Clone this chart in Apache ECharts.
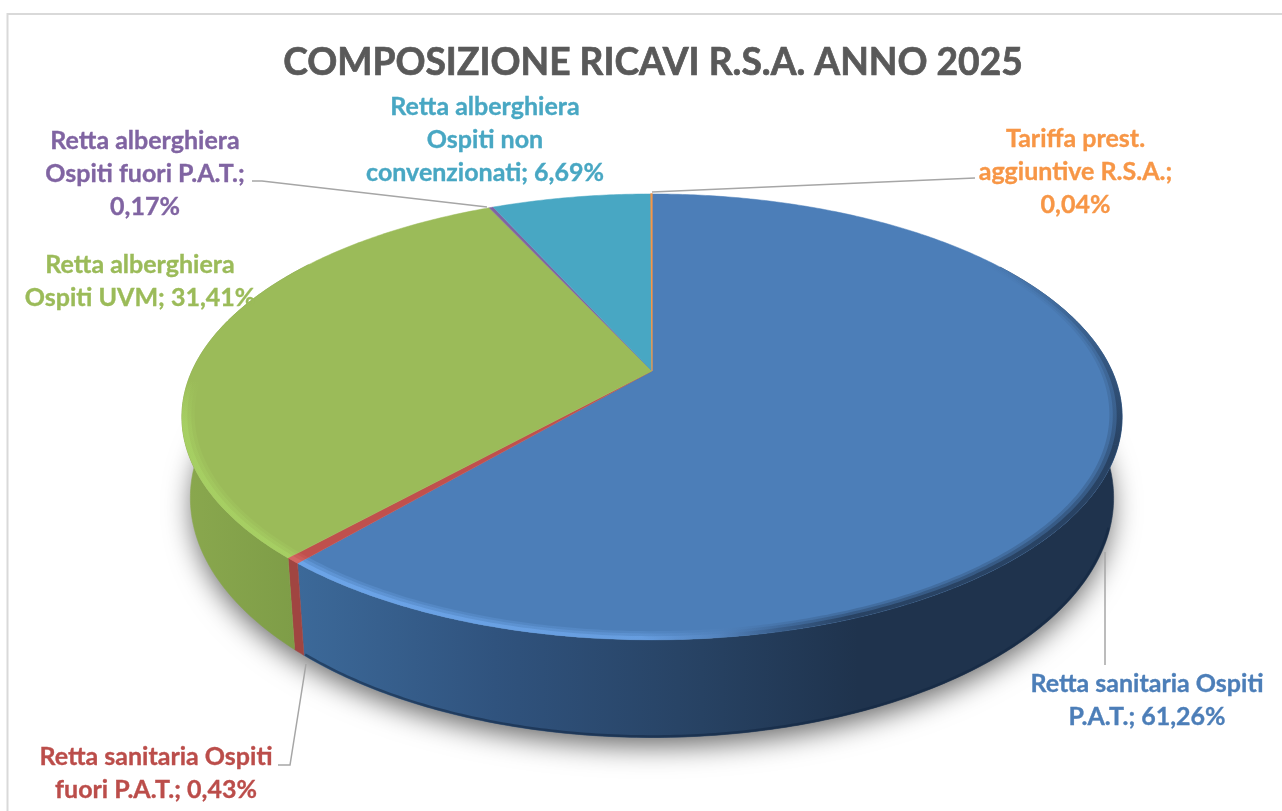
<!DOCTYPE html>
<html><head><meta charset="utf-8">
<style>html,body{margin:0;padding:0;background:#fff}#c{width:1282px;height:811px}</style>
<script src="https://cdn.jsdelivr.net/npm/echarts@6/dist/echarts.min.js"></script>
</head><body><div id="c"></div>
<script>
const chartTitle = 'COMPOSIZIONE RICAVI R.S.A. ANNO 2025';
const categories = ['Retta sanitaria Ospiti\nP.A.T.','Retta sanitaria Ospiti\nfuori P.A.T.','Retta alberghiera\nOspiti UVM','Retta alberghiera\nOspiti fuori P.A.T.','Retta alberghiera\nOspiti non\nconvenzionati','Tariffa prest.\naggiuntive R.S.A.'];
const values = [61.26,0.43,31.41,0.17,6.69,0.04];
const valueBreaks = [' ',' ',' ','\n',' ','\n'];

// styling and layout, indexed like the data
const faceColors = ['#4c7eb8','#c0504d','#9bbb59','#8064a2','#48a7c3','#f79646'];
const textColors = ['#4c7eb8','#bb4d4a','#9bbb59','#8064a2','#48a7c3','#f79646'];
const labelCenters = [[1147,700],[156,773],[140,281],[145,174],[485,140],[1075.5,172]];
const leaders = [
  [[1105,552],[1105,665]],
  [[306,664],[290,765],[278,765]],
  null,
  [[487,207],[262,181],[252,181]],
  null,
  [[652,192],[975,178]]
];
const wallStops = [
  [[0,'#3c6999'],[0.24,'#30537e'],[0.49,'#274263'],[0.68,'#1f334d'],[1,'#1f334d']],
  [[0,'#a04541'],[1,'#a04541']],
  [[0,'#8aa84e'],[1,'#7c9b46']],
  [[0,'#66507f'],[1,'#66507f']],
  [[0,'#3a85a0'],[1,'#3a85a0']],
  [[0,'#c47a38'],[1,'#c47a38']]
];
const P = {cx:652, cy:371, A:460, B:213.5, k:0.206, h:77.5, dropScale:0.982};

function proj(theta, r, drop){
  const u = Math.sin(theta)*r, v = Math.cos(theta)*r, w = 1+P.k*v;
  const sx = drop ? P.dropScale : 1;
  return [P.cx + P.A*u/w*sx, P.cy - P.B*v/w + (drop ? P.h/w : 0)];
}
const total = values.reduce((a,b)=>a+b,0);
const spans = []; { let acc=0; values.forEach(v=>{ spans.push([acc/total*2*Math.PI,(acc+v)/total*2*Math.PI]); acc+=v; }); }
function arc(a0,a1,r,drop){
  const n = Math.max(2,Math.ceil((a1-a0)/0.01)), pts=[];
  for(let i=0;i<=n;i++) pts.push(proj(a0+(a1-a0)*i/n,r,drop));
  return pts;
}
const hGrad=(x0,x1,stops)=>({type:'linear',x:x0,y:0,x2:x1,y2:0,global:true,colorStops:stops.map(s=>({offset:s[0],color:s[1]}))});
const vGrad=(y0,y1,stops)=>({type:'linear',x:0,y:y0,x2:0,y2:y1,global:true,colorStops:stops.map(s=>({offset:s[0],color:s[1]}))});

const tableData = categories.map((c,i)=>[i,values[i]]);
const labelText = i => categories[i]+';'+valueBreaks[i]+values[i].toFixed(2).replace('.',',')+'%';

const rimLayers=[[0.974,1,0.22],[0.981,1,0.32],[0.989,1,0.6]];
function band(a,b,color,layers){
  return layers.map(([ri,ro,op])=>({type:'polygon',silent:true,
    shape:{points:arc(a,b,ro,false).concat(arc(a,b,ri,false).reverse())},
    style:{fill:color,opacity:op}}));
}
function rimBands(i){
  const [a0,a1]=spans[i];
  if(i===0) return [].concat(
    band(0.75,1.9,vGrad(260,445,[[0,'rgba(31,51,77,0)'],[1,'#1f334d']]),rimLayers),
    band(1.9,a1,hGrad(300,1120,[[0,'#74aef5'],[0.415,'#6ea6ea'],[0.51,'#5585c0'],[0.585,'#34557f'],[0.67,'#1f334d'],[1,'#1f334d']]),rimLayers)
  );
  if(i===1) return band(a0,a1,'#d96e69',rimLayers);
  if(i===2) return band(a0,Math.min(a1,4.85),vGrad(380,565,[[0,'rgba(170,214,100,0)'],[0.25,'#a9d465'],[1,'#a9d465']]),rimLayers);
  return [];
}

const chart = echarts.init(document.getElementById('c'),null,{renderer:'canvas'});
chart.setOption({
  animation:false,
  backgroundColor:'#fff',
  title:{text:chartTitle,left:648,top:40,textAlign:'center',textStyle:{fontFamily:'Lato',fontWeight:'bold',fontSize:37.2,color:'#595959',textBorderColor:'#595959',textBorderWidth:0.7}},
  graphic:[{type:'rect',silent:true,z:-1,shape:{x:7.5,y:14,width:1300,height:830},style:{fill:null,stroke:'#d9d9d9',lineWidth:2}}],
  series:[
    {type:'custom',name:'shadow',coordinateSystem:'none',data:[[0]],silent:true,z:1,
     renderItem(){ return {type:'polygon',shape:{points:arc(0,2*Math.PI,0.995,true)},
        style:{fill:'#fff',shadowBlur:28,shadowColor:'rgba(0,0,0,0.6)',shadowOffsetX:0,shadowOffsetY:10}}; }},
    {type:'custom',name:'walls',coordinateSystem:'none',data:tableData,silent:true,z:2,
     renderItem(p,api){ const i=api.value(0);
       const a0=Math.max(spans[i][0],1.0), a1=Math.min(spans[i][1],5.3);
       if(a1<=a0) return {type:'group',children:[]};
       const pts=arc(a0,a1,1,false).concat(arc(a0,a1,1,true).reverse());
       const xs=pts.map(q=>q[0]); const x0=Math.min(...xs), x1=Math.max(...xs);
       const fill=hGrad(x0,x1+0.01,wallStops[i]);
       const kids=[{type:'polygon',shape:{points:pts},style:{fill,stroke:fill,lineWidth:0.6}}];
       if(i===0) kids.push({type:'polyline',shape:{points:arc(1.9,a1,0.997,true)},style:{fill:null,stroke:'rgba(18,38,66,0.55)',lineWidth:2.5}});
       return {type:'group',children:kids}; }},
    {type:'custom',name:'faces',coordinateSystem:'none',data:tableData,silent:true,z:3,
     renderItem(p,api){ const i=api.value(0); const [a0,a1]=spans[i];
       const pts=[[P.cx,P.cy]].concat(arc(a0,a1,1,false));
       return {type:'polygon',shape:{points:pts},style:{fill:faceColors[i],stroke:faceColors[i],lineWidth:i===5?1.2:0.5}}; }},
    {type:'custom',name:'rims',coordinateSystem:'none',data:tableData,silent:true,z:4,
     renderItem(p,api){ return {type:'group',children:rimBands(api.value(0))}; }},
    {type:'custom',name:'labels',coordinateSystem:'none',data:tableData,silent:true,z:5,
     renderItem(p,api){ const i=api.value(0); const kids=[];
       if(leaders[i]) kids.push({type:'polyline',shape:{points:leaders[i]},style:{fill:null,stroke:'#a6a6a6',lineWidth:1.5}});
       kids.push({type:'text',x:labelCenters[i][0],y:labelCenters[i][1],
         style:{text:labelText(i),fill:textColors[i],stroke:textColors[i],lineWidth:0.35,font:'bold 25px Lato',lineHeight:33,align:'center',verticalAlign:'middle'}});
       return {type:'group',children:kids}; }}
  ]
});
</script></body></html>
